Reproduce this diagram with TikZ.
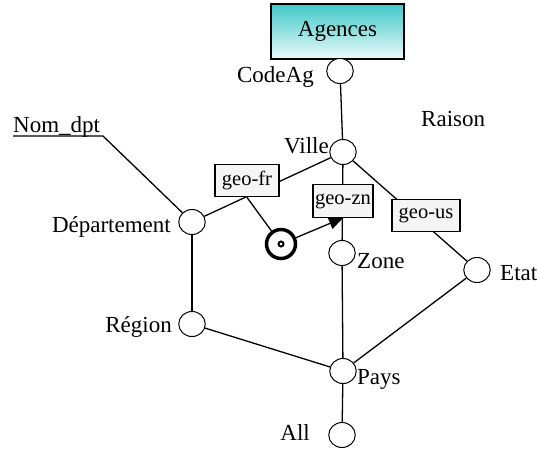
\documentclass[tikz,border=0pt]{standalone}
\usepackage{fontspec}
\setmainfont{Liberation Serif}
\usetikzlibrary{arrows.meta,shapes.geometric,backgrounds}
\definecolor{teal1}{RGB}{64,200,200}
\definecolor{teal2}{RGB}{236,250,250}
\begin{document}
\begin{tikzpicture}[x=1pt,y=-1pt,
  attr/.style={ellipse,draw,fill=white,minimum width=26.5pt,minimum height=25pt,inner sep=0pt,line width=1pt},
  lbl/.style={font=\fontsize{23}{27}\selectfont,inner sep=0pt},
  geo/.style={draw,fill=black!4,line width=1.3pt,font=\fontsize{20.5}{24}\selectfont,inner sep=0pt,minimum height=32.5pt},
  link/.style={line width=1.3pt},
  entity/.style={draw,line width=2pt,top color=teal1,bottom color=teal2,minimum width=133pt,minimum height=55pt,inner sep=0pt,font=\fontsize{23}{27}\selectfont},
  tgt/.style={circle,draw,line width=3.5pt,fill=white,minimum size=29pt,inner sep=0pt}]
\useasboundingbox (0,0) rectangle (537,448);

\node[entity] (agences) at (337.5,31.5) {Agences};

\node[attr] (codeag) at (340,71) {};
\node[attr] (ville) at (343,152) {};
\node[attr] (dept) at (192,222) {};
\node[attr] (region) at (192,324) {};
\node[attr] (zone) at (342,253) {};
\node[attr] (etat) at (477,270) {};
\node[attr] (pays) at (343,371) {};
\node[attr] (all) at (342,435) {};

\node[geo,minimum width=64pt] (geofr) at (247,180.5) {geo-fr};
\node[geo,minimum width=60pt] (geozn) at (343,201) {geo-zn};
\node[geo,minimum width=68pt] (geous) at (426,215.5) {geo-us};

\node[tgt] (target) at (281,244) {};
\draw[line width=2pt] (target.center) circle (2.5pt);

\coordinate (nd) at (103,136);
\coordinate (ndl) at (13,136);

\begin{scope}[on background layer]
\draw[link] (codeag) -- (ville);
\draw[link] (ville) -- (dept);
\draw[link] (ville) -- (zone);
\draw[link] (ville) -- (etat);
\draw[link] (dept) -- (region);
\draw[link] (region) -- (pays);
\draw[link] (zone) -- (pays);
\draw[link] (etat) -- (pays);
\draw[link] (pays) -- (all);
\draw[link] (ndl) -- (nd) -- (dept);
\end{scope}

\draw[link] (geofr.south) -- (target);
\draw[link,-{Triangle[length=14pt,width=12pt]}] (target) -- (geozn.south);

\node[lbl,anchor=base east] (lcodeag) at (314,82) {CodeAg};
\node[lbl,anchor=base east] (lville) at (329,153) {Ville};
\node[lbl,anchor=base west] (lraison) at (421,126) {Raison};
\node[lbl,anchor=base west] (lnomdpt) at (13,132) {Nom\_dpt};
\node[lbl,anchor=base east] (ldept) at (171,232) {Département};
\node[lbl,anchor=base east] (lregion) at (172,332) {Région};
\node[lbl,anchor=base west] (lzone) at (357,268) {Zone};
\node[lbl,anchor=base west] (letat) at (500,280) {Etat};
\node[lbl,anchor=base west] (lpays) at (357,384) {Pays};
\node[lbl,anchor=base east] (lall) at (310,440) {All};
\end{tikzpicture}
\end{document}
